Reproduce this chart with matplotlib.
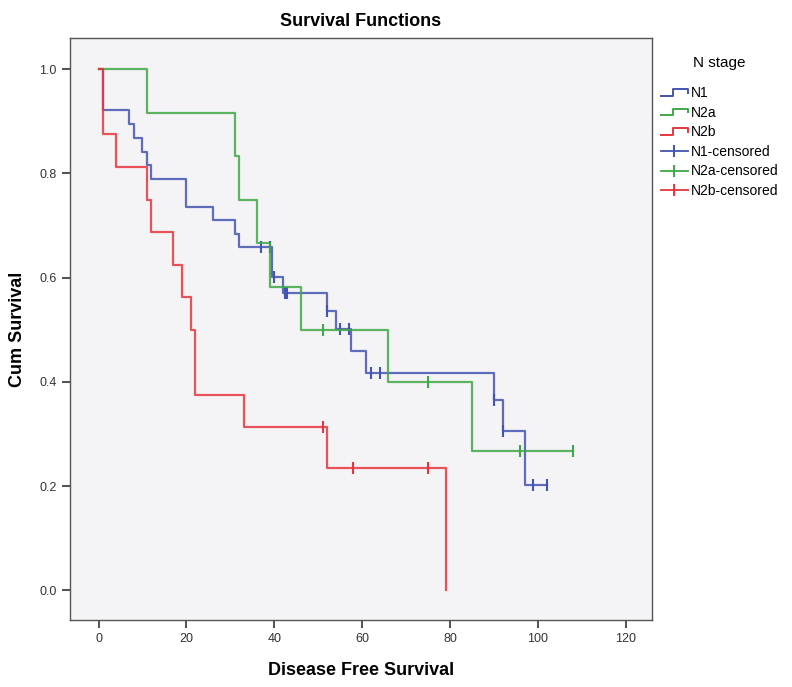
import numpy as np
import matplotlib
matplotlib.use("Agg")
import matplotlib.pyplot as plt
from matplotlib.lines import Line2D
from matplotlib.legend_handler import HandlerBase

plt.rcParams['font.family'] = ['Liberation Sans', 'DejaVu Sans']

# Step curves: event times and survival after each step
n1_times = [0, 1, 7, 8, 10, 11, 12, 20, 26, 31, 32, 39.5, 42, 52, 54, 57.5, 61, 90, 92, 97]
n1_surv = [1.0, 0.921, 0.895, 0.868, 0.842, 0.816, 0.789, 0.736, 0.710, 0.684, 0.658,
           0.601, 0.571, 0.537, 0.501, 0.459, 0.418, 0.365, 0.305, 0.203]
n1_censored = [37, 39, 40, 42.5, 43, 52, 55, 57, 62, 64, 90, 92, 99, 102]

n2a_times = [0, 11, 31, 32, 36, 39, 46, 66, 85]
n2a_surv = [1.0, 0.917, 0.833, 0.75, 0.667, 0.583, 0.5, 0.4, 0.267]
n2a_censored = [51, 75, 96, 108]

n2b_times = [0, 1, 4, 11, 12, 17, 19, 21, 22, 33, 52, 79]
n2b_surv = [1.0, 0.875, 0.8125, 0.75, 0.6875, 0.625, 0.5625, 0.5, 0.375, 0.3125, 0.234, 0.0]
n2b_censored = [51, 58, 75]

groups = ['N1', 'N2a', 'N2b']
colors = {'N1': '#4454b0', 'N2a': '#40a846', 'N2b': '#e8353d'}

data = {
    'N1': (n1_times, n1_surv, n1_censored),
    'N2a': (n2a_times, n2a_surv, n2a_censored),
    'N2b': (n2b_times, n2b_surv, n2b_censored),
}


def surv_at(times, surv, t):
    # value of the step function just after time t
    idx = np.searchsorted(times, t, side='right') - 1
    return np.asarray(surv)[idx]


class StepHandler(HandlerBase):
    # draws the little step glyph SPSS uses in its legend
    def create_artists(self, legend, orig_handle, xdescent, ydescent, width, height, fontsize, trans):
        xs = np.array([0.0, 0.45, 0.45, 1.0, 1.0]) * width - xdescent
        ys = np.array([0.15, 0.15, 0.85, 0.85, 0.45]) * height - ydescent
        line = Line2D(xs, ys, color=orig_handle.get_color(), lw=orig_handle.get_linewidth())
        line.set_transform(trans)
        return [line]


fig = plt.figure(figsize=(7.92, 6.87), dpi=100)
ax = fig.add_axes([70 / 792, 1 - 620 / 687, (652 - 70) / 792, (620 - 38) / 687])
ax.set_facecolor('#f4f4f6')

step_handles = []
cens_handles = []
for g in groups:
    times, surv, cens = data[g]
    end = max(times[-1], max(cens))
    xs = list(times) + [end]
    ys = list(surv) + [surv[-1]]
    ax.step(xs, ys, where='post', color=colors[g], lw=1.6, alpha=0.85)
    cy = [surv_at(times, surv, c) for c in cens]
    ax.plot(cens, cy, linestyle='none', marker='|', markersize=9, mew=1.5, color=colors[g])
    step_handles.append(Line2D([], [], color=colors[g], lw=1.4))
    cens_handles.append(Line2D([0, 1], [0, 0], color=colors[g], lw=1.3, marker='|', markersize=9, mew=1.4))

ax.set_xlim(-6.5, 126)
ax.set_ylim(-0.057, 1.06)
ax.set_xticks([0, 20, 40, 60, 80, 100, 120])
ax.set_yticks([0.0, 0.2, 0.4, 0.6, 0.8, 1.0])
ax.set_yticklabels(['0.0', '0.2', '0.4', '0.6', '0.8', '1.0'])
ax.tick_params(direction='out', length=6, width=1.2, labelsize=9, colors='#333333')
for s in ax.spines.values():
    s.set_color('#555555')
    s.set_linewidth(1.0)

ax.set_title('Survival Functions', fontsize=13, fontweight='bold', pad=9)
ax.set_xlabel('Disease Free Survival', fontsize=13, fontweight='bold', labelpad=12)
ax.set_ylabel('Cum Survival', fontsize=13, fontweight='bold', labelpad=10)

labels = ['N1', 'N2a', 'N2b', 'N1-censored', 'N2a-censored', 'N2b-censored']
handler_map = {h: StepHandler() for h in step_handles}
leg = fig.legend(step_handles + cens_handles, labels, handler_map=handler_map,
                 loc='upper left', bbox_to_anchor=(655 / 792, 1 - 50 / 687),
                 frameon=False, fontsize=10, title='N stage', title_fontsize=11,
                 handlelength=2.0, handletextpad=0.2, labelspacing=0.4, borderaxespad=0)
leg._legend_box.align = 'center'
leg._legend_box.sep = 12

fig.savefig('out.png', dpi=100, facecolor='white')
